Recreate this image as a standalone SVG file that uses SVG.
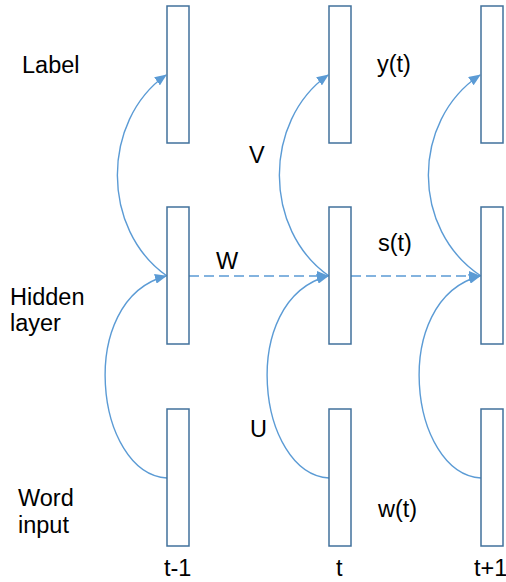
<svg xmlns="http://www.w3.org/2000/svg" width="506" height="582" viewBox="0 0 506 582">
<style>
.box{fill:#fff;stroke:#41719c;stroke-width:1.5}
.c{fill:none;stroke:#5b9bd5;stroke-width:1.4}
.d{fill:none;stroke:#5b9bd5;stroke-width:1.4;stroke-dasharray:10 5}
text{font-family:"Liberation Sans",Arial,sans-serif;font-size:23.5px;fill:#000}
</style>
<defs>
<marker id="ah" markerWidth="12" markerHeight="10" refX="11" refY="5" orient="auto" markerUnits="userSpaceOnUse">
<path d="M0,0 L12,5 L0,10 Z" fill="#5b9bd5"/>
</marker>
</defs>
<rect width="506" height="582" fill="#fff"/>
<g id="connectors">
<path class="c" d="M167,276 C101,230 101,121 166,75" marker-end="url(#ah)"/>
<path class="c" d="M167,478 C95,474 75,300 166,276" marker-end="url(#ah)"/>
<path class="c" d="M329,276 C263,230 263,121 328,75" marker-end="url(#ah)"/>
<path class="c" d="M329,478 C257,474 237,300 328,276" marker-end="url(#ah)"/>
<path class="c" d="M481,276 C411,230 411,121 480,75" marker-end="url(#ah)"/>
<path class="c" d="M481,478 C409,474 389,300 480,276" marker-end="url(#ah)"/>
<path class="d" d="M189,276 H328" marker-end="url(#ah)"/>
<path class="d" d="M351,276 H480" marker-end="url(#ah)"/>
</g>
<g id="y_tm1"><rect class="box" x="167" y="6" width="22" height="137"/></g>
<g id="s_tm1"><rect class="box" x="167" y="207" width="22" height="137"/></g>
<g id="w_tm1"><rect class="box" x="167" y="409" width="22" height="137"/></g>
<g id="y_t"><rect class="box" x="329" y="6" width="22" height="137"/></g>
<g id="s_t"><rect class="box" x="329" y="207" width="22" height="137"/></g>
<g id="w_t"><rect class="box" x="329" y="409" width="22" height="137"/></g>
<g id="y_tp1"><rect class="box" x="481" y="6" width="22" height="137"/></g>
<g id="s_tp1"><rect class="box" x="481" y="207" width="22" height="137"/></g>
<g id="w_tp1"><rect class="box" x="481" y="409" width="22" height="137"/></g>
<g id="labels">
<text x="22" y="73">Label</text>
<text x="10" y="305">Hidden</text>
<text x="10" y="331">layer</text>
<text x="18" y="506">Word</text>
<text x="18" y="533">input</text>
<text x="377" y="72">y(t)</text>
<text x="378" y="251">s(t)</text>
<text x="378" y="517">w(t)</text>
<text x="164" y="576">t-1</text>
<text x="336" y="576">t</text>
<text x="474" y="576">t+1</text>
<text x="249" y="163">V</text>
<text x="216" y="269">W</text>
<text x="250" y="437">U</text>
</g>
</svg>
